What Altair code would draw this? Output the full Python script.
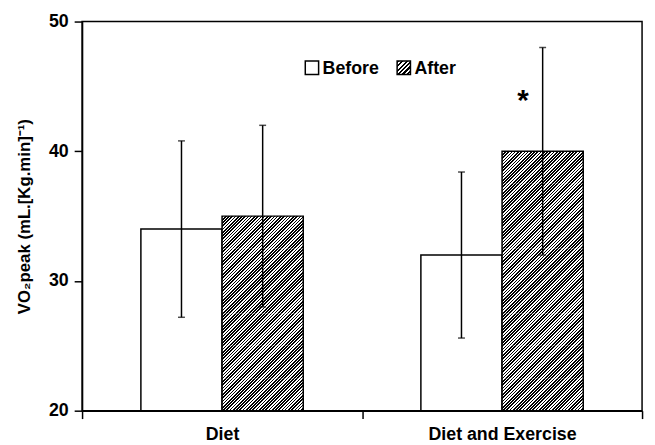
import altair as alt
import numpy as np
import pandas as pd

# ---- data ----
categories = ["Diet", "Diet and Exercise"]
groups = ["Before", "After"]
before_mean = [34.0, 32.0]
after_mean = [35.0, 40.0]
before_sd = [6.8, 6.4]
after_sd = [7.0, 8.0]
y_ticks = [20, 30, 40, 50]
y_title = "VO\u2082peak (mL.[Kg.min]\u207b\u00b9)"
legend_labels = ["Before", "After"]
signif_category = ["Diet and Exercise"]
signif_group = ["After"]
signif_y = [43.2]
signif_text = ["*"]

# ---- layout / style ----
W, H = 567, 394
Y_MIN, Y_MAX = 20, 50
OFF_PAD = 0.7245          # outer padding of the Before/After sub-bands
FONT = "Liberation Sans"
SEG = 2.5  # hatch is painted in bands of this many y-units

rows = []
for i, c in enumerate(categories):
    rows.append({"category": c, "group": "Before", "mean": before_mean[i], "sd": before_sd[i]})
    rows.append({"category": c, "group": "After", "mean": after_mean[i], "sd": after_sd[i]})
df = pd.DataFrame(rows)
df["lo"] = df["mean"] - df["sd"]
df["hi"] = df["mean"] + df["sd"]

# hatch bands derived from the "After" values
seg_rows = []
for i, c in enumerate(categories):
    for b in np.arange(Y_MIN, after_mean[i], SEG):
        seg_rows.append({"category": c, "group": "After", "b0": float(b),
                         "b1": float(min(b + SEG, after_mean[i]))})
seg_df = pd.DataFrame(seg_rows)

step = W / len(categories)
bar_w = step / (len(groups) + 2 * OFF_PAD)
px_per_unit = H / (Y_MAX - Y_MIN)
seg_h = SEG * px_per_unit
period = seg_h / 10.0  # horizontal stripe period, fits the band height exactly


def hatch(w, h, ph):
    """Diagonal '/' stripes (horizontal period ph px) as a linear gradient over a w x h box."""
    s = w * (w + h) / (w * w + h * h)  # so that t = (x + y) / (w + h)
    pt = ph / (w + h)
    stops = []
    k = 0
    while k * pt < 1:
        a, b, c = k * pt, min((k + 0.5) * pt, 1), min((k + 1) * pt, 1)
        stops += [
            {"offset": a, "color": "black"},
            {"offset": b, "color": "black"},
            {"offset": b, "color": "white"},
            {"offset": c, "color": "white"},
        ]
        k += 1
    return {"gradient": "linear", "x1": 0, "y1": 0, "x2": s, "y2": s * h / w, "stops": stops}


x_scale = alt.Scale(domain=categories, paddingInner=0, paddingOuter=0)
xo_scale = alt.Scale(domain=groups, paddingInner=0, paddingOuter=OFF_PAD)
X_AXIS = alt.Axis(title=None, labelAngle=0, tickBand="extent", tickSize=8, labelPadding=7,
                  labelFontSize=18)
Y_AXIS = alt.Axis(values=y_ticks, title=y_title, tickSize=8, labelPadding=6,
                  labelFontSize=18, titleFontSize=17, titlePadding=15)
y_scale = alt.Scale(domain=[Y_MIN, Y_MAX], nice=False, zero=False)


def X():
    return alt.X("category:N", sort=categories, scale=x_scale, axis=X_AXIS)


def XO():
    return alt.XOffset("group:N", scale=xo_scale)


def Y(field):
    return alt.Y(field, type="quantitative", scale=y_scale, axis=Y_AXIS)


base = alt.Chart(df)

bars_before = base.transform_filter(alt.datum.group == "Before").mark_bar(
    fill="white", stroke="black", strokeWidth=1.5
).encode(x=X(), xOffset=XO(), y=Y("mean"), y2=alt.datum(Y_MIN))

hatch_bands = alt.Chart(seg_df).mark_bar(
    fill=hatch(bar_w, seg_h, period), strokeWidth=0
).encode(x=X(), xOffset=XO(), y=Y("b1"), y2="b0:Q")

after_outline = base.transform_filter(alt.datum.group == "After").mark_bar(
    fillOpacity=0, stroke="black", strokeWidth=1.5
).encode(x=X(), xOffset=XO(), y=Y("mean"), y2=alt.datum(Y_MIN))

err = base.mark_rule(color="black", strokeWidth=1.5).encode(
    x=X(), xOffset=XO(), y=Y("lo"), y2="hi:Q"
)
cap_hi = base.mark_tick(color="black", thickness=1.5, size=7, orient="horizontal").encode(
    x=X(), xOffset=XO(), y=Y("hi")
)
cap_lo = base.mark_tick(color="black", thickness=1.5, size=7, orient="horizontal").encode(
    x=X(), xOffset=XO(), y=Y("lo")
)

sig_df = pd.DataFrame({"category": signif_category, "group": signif_group,
                       "yv": signif_y, "label": signif_text})
sig = alt.Chart(sig_df).mark_text(
    font=FONT, fontSize=30, fontWeight="bold", color="black", align="center",
    baseline="alphabetic", dx=-20,
).encode(x=X(), xOffset=XO(), y=Y("yv"), text="label:N")

# ---- manual legend (hatched swatch) ----
sw = 13.5
leg = []
leg_x = [226, 319]
leg_fill = ["white", hatch(sw, sw, 4.5)]
for i, lab in enumerate(legend_labels):
    ldf = pd.DataFrame({"label": [lab]})
    leg.append(alt.Chart(ldf).mark_rect(fill=leg_fill[i], stroke="black", strokeWidth=1.5).encode(
        x=alt.value(leg_x[i]), x2=alt.value(leg_x[i] + sw),
        y=alt.value(40), y2=alt.value(40 + sw),
    ))
    leg.append(alt.Chart(ldf).mark_text(
        font=FONT, fontSize=18, fontWeight="bold", color="black", align="left",
        baseline="alphabetic",
    ).encode(x=alt.value(leg_x[i] + sw + 4), y=alt.value(53.5), text="label:N"))

chart = alt.layer(
    bars_before, hatch_bands, after_outline, err, cap_hi, cap_lo, sig, *leg
).properties(
    width=W, height=H,
    autosize="none",
    padding={"left": 75, "top": 11, "right": 5, "bottom": 30},
).configure_view(
    stroke="black", strokeWidth=1.5
).configure_axis(
    labelFont=FONT, labelFontWeight="bold", labelColor="black",
    titleFont=FONT, titleFontWeight="bold", titleColor="black",
    domainColor="black", domainWidth=1.5, tickColor="black", tickWidth=1.5,
    grid=False,
)

chart.save("out.html", embed_options={"renderer": "svg", "actions": False})
